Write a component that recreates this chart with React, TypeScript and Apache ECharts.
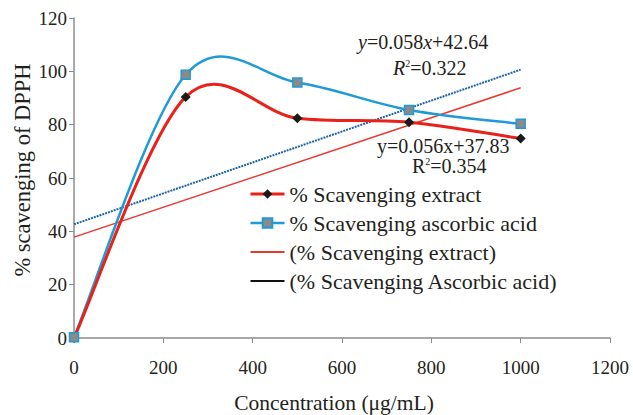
import React, { useEffect, useRef } from "react";
import * as echarts from "echarts";

const concentrations = [0, 250, 500, 750, 1000];
const extractValues = [0, 90.4, 82.4, 80.9, 74.8];
const ascorbicValues = [0.3, 98.7, 95.8, 85.5, 80.3];
const trendExtract = [[0, 37.83], [1000, 93.83]];
const trendAscorbic = [[0, 42.64], [1000, 100.64]];
const xTicks = [0, 200, 400, 600, 800, 1000, 1200];
const yTicks = [0, 20, 40, 60, 80, 100, 120];
const seriesNames = [
  "% Scavenging extract",
  "% Scavenging ascorbic acid",
  "(% Scavenging extract)",
  "(% Scavenging Ascorbic acid)",
];

const FONT = "Liberation Serif";
const TEXT = "#231f20";
const AXIS = "#8c8c8c";
const RED = "#e8221b";
const BLUE = "#1f9ad8";
const EQ = 20;

function splineSeries(xs: number[], ys: number[], color: string, width: number, z: number) {
  return {
    type: "custom",
    silent: true,
    z,
    data: xs.slice(0, -1).map((x, i) => [x, ys[i], i]),
    encode: { x: 0, y: 1 },
    renderItem: (_params: any, api: any) => {
      const i = api.value(2);
      const pts = xs.map((x, k) => api.coord([x, ys[k]]));
      const n = pts.length;
      const p0 = pts[Math.max(i - 1, 0)];
      const p1 = pts[i];
      const p2 = pts[i + 1];
      const p3 = pts[Math.min(i + 2, n - 1)];
      return {
        type: "bezierCurve",
        shape: {
          x1: p1[0],
          y1: p1[1],
          x2: p2[0],
          y2: p2[1],
          cpx1: p1[0] + (p2[0] - p0[0]) / 6,
          cpy1: p1[1] + (p2[1] - p0[1]) / 6,
          cpx2: p2[0] - (p3[0] - p1[0]) / 6,
          cpy2: p2[1] - (p3[1] - p1[1]) / 6,
        },
        style: { stroke: color, lineWidth: width, fill: null },
      };
    },
  };
}

const richEq = {
  t: { fontFamily: FONT, fontSize: EQ, fill: TEXT },
  i: { fontFamily: FONT, fontSize: EQ, fontStyle: "italic", fill: TEXT },
  s: { fontFamily: FONT, fontSize: 10, fill: TEXT, verticalAlign: "top", padding: [0, 0, 9, 0] },
};

export default function App() {
  const ref = useRef<HTMLDivElement>(null);
  useEffect(() => {
    if (!ref.current) return;
    const chart = echarts.init(ref.current, undefined, { renderer: "svg" });
    const pair = (xs: number[], ys: number[]) => xs.map((x, i) => [x, ys[i]]);
    chart.setOption({
      animation: false,
      backgroundColor: "#ffffff",
      textStyle: { fontFamily: FONT, color: TEXT },
      grid: { left: 74, right: 23, top: 18, bottom: 77, containLabel: false, outerBoundsMode: "none" },
      xAxis: {
        type: "value",
        min: xTicks[0],
        max: xTicks[xTicks.length - 1],
        interval: 200,
        name: "Concentration (μg/mL)",
        nameLocation: "middle",
        nameGap: 54,
        nameMoveOverlap: false,
        nameTextStyle: { fontFamily: FONT, fontSize: 21.5, color: TEXT, padding: [0, 16, 0, 0] },
        axisLine: { lineStyle: { color: AXIS, width: 1.5 } },
        axisTick: { show: true, length: 5, lineStyle: { color: AXIS } },
        axisLabel: {
          fontFamily: FONT,
          fontSize: 19,
          color: TEXT,
          margin: 20,
          formatter: (v: number) => String(v),
        },
        splitLine: { show: false },
      },
      yAxis: {
        type: "value",
        min: yTicks[0],
        max: yTicks[yTicks.length - 1],
        interval: 20,
        name: "% scavenging of DPPH",
        nameLocation: "middle",
        nameRotate: 90,
        nameGap: 40,
        nameMoveOverlap: false,
        nameTextStyle: { fontFamily: FONT, fontSize: 22.5, color: TEXT, padding: [0, 0, 0, 16] },
        axisLine: { show: true, lineStyle: { color: AXIS, width: 1.5 } },
        axisTick: { show: true, length: 5, lineStyle: { color: AXIS } },
        axisLabel: { fontFamily: FONT, fontSize: 19, color: TEXT, margin: 7 },
        splitLine: { show: false },
      },
      legend: {
        orient: "vertical",
        left: 244,
        top: 178,
        itemGap: 7,
        itemWidth: 34,
        itemHeight: 12,
        textStyle: { fontFamily: FONT, fontSize: 22, color: TEXT, lineHeight: 22 },
        data: [
          { name: seriesNames[0], lineStyle: { color: RED, width: 3, opacity: 1 } },
          { name: seriesNames[1], lineStyle: { color: BLUE, width: 2.5, opacity: 1 } },
          { name: seriesNames[2], itemStyle: { opacity: 0 } },
          {
            name: seriesNames[3],
            lineStyle: { color: "#111111", type: "solid", width: 2 },
            itemStyle: { opacity: 0 },
          },
        ],
      },
      series: [
        {
          name: seriesNames[2],
          type: "line",
          data: trendExtract,
          symbol: "none",
          lineStyle: { color: "#e8392f", width: 1.5 },
          itemStyle: { color: "#e8392f" },
          z: 1,
        },
        {
          name: seriesNames[3],
          type: "line",
          data: trendAscorbic,
          symbol: "none",
          lineStyle: { color: "#1b64a6", width: 2, type: [2, 1] },
          itemStyle: { color: "#1b64a6" },
          z: 1,
        },
        splineSeries(concentrations, ascorbicValues, BLUE, 2.5, 2),
        splineSeries(concentrations, extractValues, RED, 3, 3),
        {
          name: seriesNames[0],
          type: "line",
          data: pair(concentrations, extractValues),
          symbol: "diamond",
          symbolSize: 10,
          lineStyle: { color: RED, width: 3, opacity: 0 },
          itemStyle: { color: "#1a1a1a", borderColor: "#1a1a1a", borderWidth: 0 },
          z: 4,
        },
        {
          name: seriesNames[1],
          type: "line",
          data: pair(concentrations, ascorbicValues),
          symbol: "rect",
          symbolSize: 9,
          lineStyle: { color: BLUE, width: 2.5, opacity: 0 },
          itemStyle: { color: "#8a8a8a", borderColor: BLUE, borderWidth: 1.5 },
          z: 5,
        },
      ],
      graphic: [
        {
          type: "text",
          left: 358,
          top: 32,
          style: { text: "{i|y}{t|=0.058}{i|x}{t|+42.64}", rich: richEq },
        },
        {
          type: "text",
          left: 393,
          top: 58,
          style: { text: "{i|R}{s|2}{t|=0.322}", rich: richEq },
        },
        {
          type: "text",
          left: 377,
          top: 136,
          style: { text: "{t|y=0.056x+37.83}", rich: richEq },
        },
        {
          type: "text",
          left: 412,
          top: 156,
          style: { text: "{t|R}{s|2}{t|=0.354}", rich: richEq },
        },
      ],
    });
    return () => chart.dispose();
  }, []);
  return (
    <div
      ref={ref}
      style={{ position: "fixed", left: 0, top: 0, width: 633, height: 415, overflow: "hidden" }}
    />
  );
}
